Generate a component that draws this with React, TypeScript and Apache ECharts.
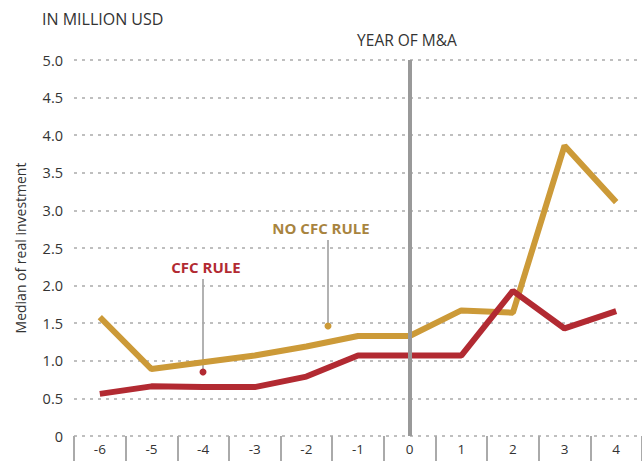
import React, { useEffect, useRef } from "react";
import * as echarts from "echarts";

const years = ["-6", "-5", "-4", "-3", "-2", "-1", "0", "1", "2", "3", "4"];
const cfcRule = [0.56, 0.66, 0.65, 0.65, 0.79, 1.07, 1.07, 1.07, 1.93, 1.43, 1.66];
const noCfcRule = [1.58, 0.89, 0.98, 1.07, 1.19, 1.33, 1.33, 1.67, 1.64, 3.86, 3.11];
const yTicks = ["0", "0.5", "1.0", "1.5", "2.0", "2.5", "3.0", "3.5", "4.0", "4.5", "5.0"];

const RED = "#B22A32";
const GOLD = "#CC9A38";
const GOLD_TEXT = "#A8843F";
const FONT = "'Open Sans', 'Noto Sans', sans-serif";

export default function App() {
  const ref = useRef<HTMLDivElement>(null);
  useEffect(() => {
    if (!ref.current) return;
    const chart = echarts.init(ref.current, undefined, { renderer: "svg" });
    chart.setOption({
      animation: false,
      textStyle: { fontFamily: FONT },
      grid: { left: 74, top: 60, width: 569, height: 376, containLabel: false },
      xAxis: {
        type: "category",
        data: years,
        boundaryGap: true,
        axisLine: { show: false },
        axisTick: { show: true, length: 30, lineStyle: { color: "#aaaaaa", width: 2 } },
        axisLabel: { color: "#333", fontSize: 13.5, margin: 6, fontFamily: FONT },
        splitLine: { show: false },
      },
      yAxis: {
        type: "value",
        min: 0,
        max: 5,
        interval: 0.5,
        name: "Median of real investment",
        nameLocation: "middle",
        nameGap: 47,
        nameTextStyle: { color: "#333", fontSize: 14, fontFamily: FONT },
        axisLine: { show: false },
        axisTick: { show: false },
        axisLabel: {
          color: "#333",
          fontSize: 14.5,
          margin: 11,
          fontFamily: FONT,
          formatter: (v: number) => yTicks[Math.round(v * 2)] ?? String(v),
        },
        splitLine: { show: true, lineStyle: { color: "#aaaaaa", type: [3, 5], width: 1.5 } },
      },
      series: [
        {
          name: "NO CFC RULE",
          type: "line",
          data: noCfcRule,
          symbol: "none",
          lineStyle: { color: GOLD, width: 6 },
          z: 3,
          markLine: {
            silent: true,
            symbol: "none",
            label: { show: false },
            lineStyle: { color: "#999999", width: 4, type: "solid" },
            data: [{ xAxis: "0" }],
          },
        },
        {
          name: "CFC RULE",
          type: "line",
          data: cfcRule,
          symbol: "none",
          lineStyle: { color: RED, width: 6 },
          z: 4,
        },
      ],
      graphic: [
        {
          type: "text",
          left: 42,
          top: 11,
          style: { text: "IN MILLION USD", fill: "#333", font: `16px ${FONT}` },
        },
        {
          type: "text",
          x: 407,
          y: 40,
          style: { text: "YEAR OF M&A", fill: "#333", font: `15.5px ${FONT}`, align: "center", verticalAlign: "middle" },
        },
        {
          type: "text",
          x: 206,
          y: 267,
          style: { text: "CFC RULE", fill: RED, font: `bold 15px ${FONT}`, align: "center", verticalAlign: "middle" },
        },
        {
          type: "line",
          shape: { x1: 203, y1: 279, x2: 203, y2: 372 },
          style: { stroke: "#999999", lineWidth: 1.5 },
        },
        {
          type: "circle",
          shape: { cx: 203, cy: 372, r: 3.5 },
          style: { fill: RED },
        },
        {
          type: "text",
          x: 321,
          y: 228,
          style: { text: "NO CFC RULE", fill: GOLD_TEXT, font: `bold 15px ${FONT}`, align: "center", verticalAlign: "middle" },
        },
        {
          type: "line",
          shape: { x1: 328, y1: 240, x2: 328, y2: 326 },
          style: { stroke: "#999999", lineWidth: 1.5 },
        },
        {
          type: "circle",
          shape: { cx: 328, cy: 326, r: 3.5 },
          style: { fill: GOLD },
        },
      ],
    });
    return () => chart.dispose();
  }, []);
  return <div ref={ref} style={{ width: 642, height: 461, position: "absolute", left: 0, top: 0 }} />;
}
